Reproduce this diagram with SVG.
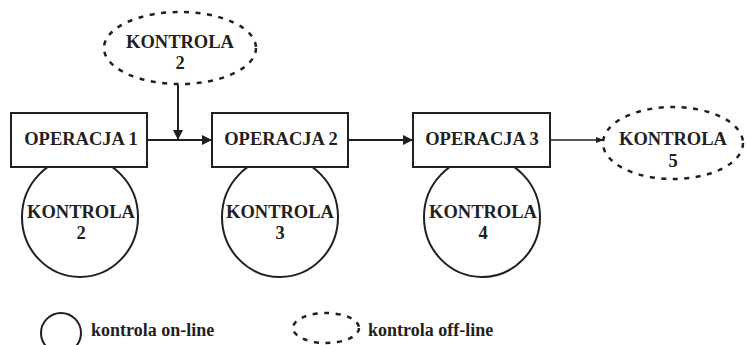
<svg xmlns="http://www.w3.org/2000/svg" width="746" height="345" viewBox="0 0 746 345">
<style>
text{font-family:'Liberation Serif','Times New Roman',serif;font-weight:bold;fill:#231f20;text-anchor:middle}
.lbl{font-size:18.5px}
.leg{font-size:18px;text-anchor:start}
.box{fill:#fff;stroke:#231f20;stroke-width:2}
.on{fill:#fff;stroke:#231f20;stroke-width:2}
.off{fill:#fff;stroke:#231f20;stroke-width:2.5;stroke-dasharray:5 6.5}
.ln{fill:none;stroke:#231f20;stroke-width:2}
.thin{fill:none;stroke:#231f20;stroke-width:1.3}
</style>
<defs>
<marker id="ah" markerWidth="10" markerHeight="10" refX="9" refY="5" orient="auto" markerUnits="userSpaceOnUse"><path d="M0,0 L10,5 L0,10 Z" fill="#231f20"/></marker>
<marker id="ahs" markerWidth="8" markerHeight="8" refX="7" refY="4" orient="auto" markerUnits="userSpaceOnUse"><path d="M0,1 L8,4 L0,7 Z" fill="#231f20"/></marker>
</defs>
<g id="connectors">
<line class="ln" x1="147" y1="140" x2="211" y2="140" marker-end="url(#ah)"/>
<line class="ln" x1="178" y1="85" x2="178" y2="139" marker-end="url(#ah)"/>
<line class="ln" x1="348" y1="140" x2="412" y2="140" marker-end="url(#ah)"/>
<line class="thin" x1="550" y1="140" x2="603" y2="140" marker-end="url(#ahs)"/>
</g>
<g id="k2top"><ellipse class="off" cx="180" cy="48" rx="76" ry="36"/><text class="lbl" x="180" y="48">KONTROLA</text><text class="lbl" x="180" y="69">2</text></g>
<g id="c1"><ellipse class="on" cx="80" cy="217" rx="58" ry="60"/><text class="lbl" x="81" y="218">KONTROLA</text><text class="lbl" x="81" y="239">2</text></g>
<g id="op1"><rect class="box" x="11" y="113" width="136" height="54"/><text class="lbl" x="81" y="145">OPERACJA 1</text></g>
<g id="c2"><ellipse class="on" cx="280" cy="217" rx="58" ry="60"/><text class="lbl" x="280" y="218">KONTROLA</text><text class="lbl" x="280" y="239">3</text></g>
<g id="op2"><rect class="box" x="212" y="113" width="136" height="54"/><text class="lbl" x="281" y="145">OPERACJA 2</text></g>
<g id="c3"><ellipse class="on" cx="482" cy="217" rx="58" ry="60"/><text class="lbl" x="483" y="218">KONTROLA</text><text class="lbl" x="483" y="239">4</text></g>
<g id="op3"><rect class="box" x="413" y="113" width="137" height="54"/><text class="lbl" x="482" y="145">OPERACJA 3</text></g>
<g id="k5"><ellipse class="off" cx="673" cy="143" rx="70" ry="36"/><text class="lbl" x="673" y="145">KONTROLA</text><text class="lbl" x="673" y="167">5</text></g>
<g id="legend">
<ellipse class="on" cx="61" cy="333" rx="20" ry="20"/>
<text class="leg" x="91" y="336">kontrola on-line</text>
<ellipse class="off" cx="326" cy="328" rx="33" ry="15"/>
<text class="leg" x="368" y="336">kontrola off-line</text>
</g>
</svg>
